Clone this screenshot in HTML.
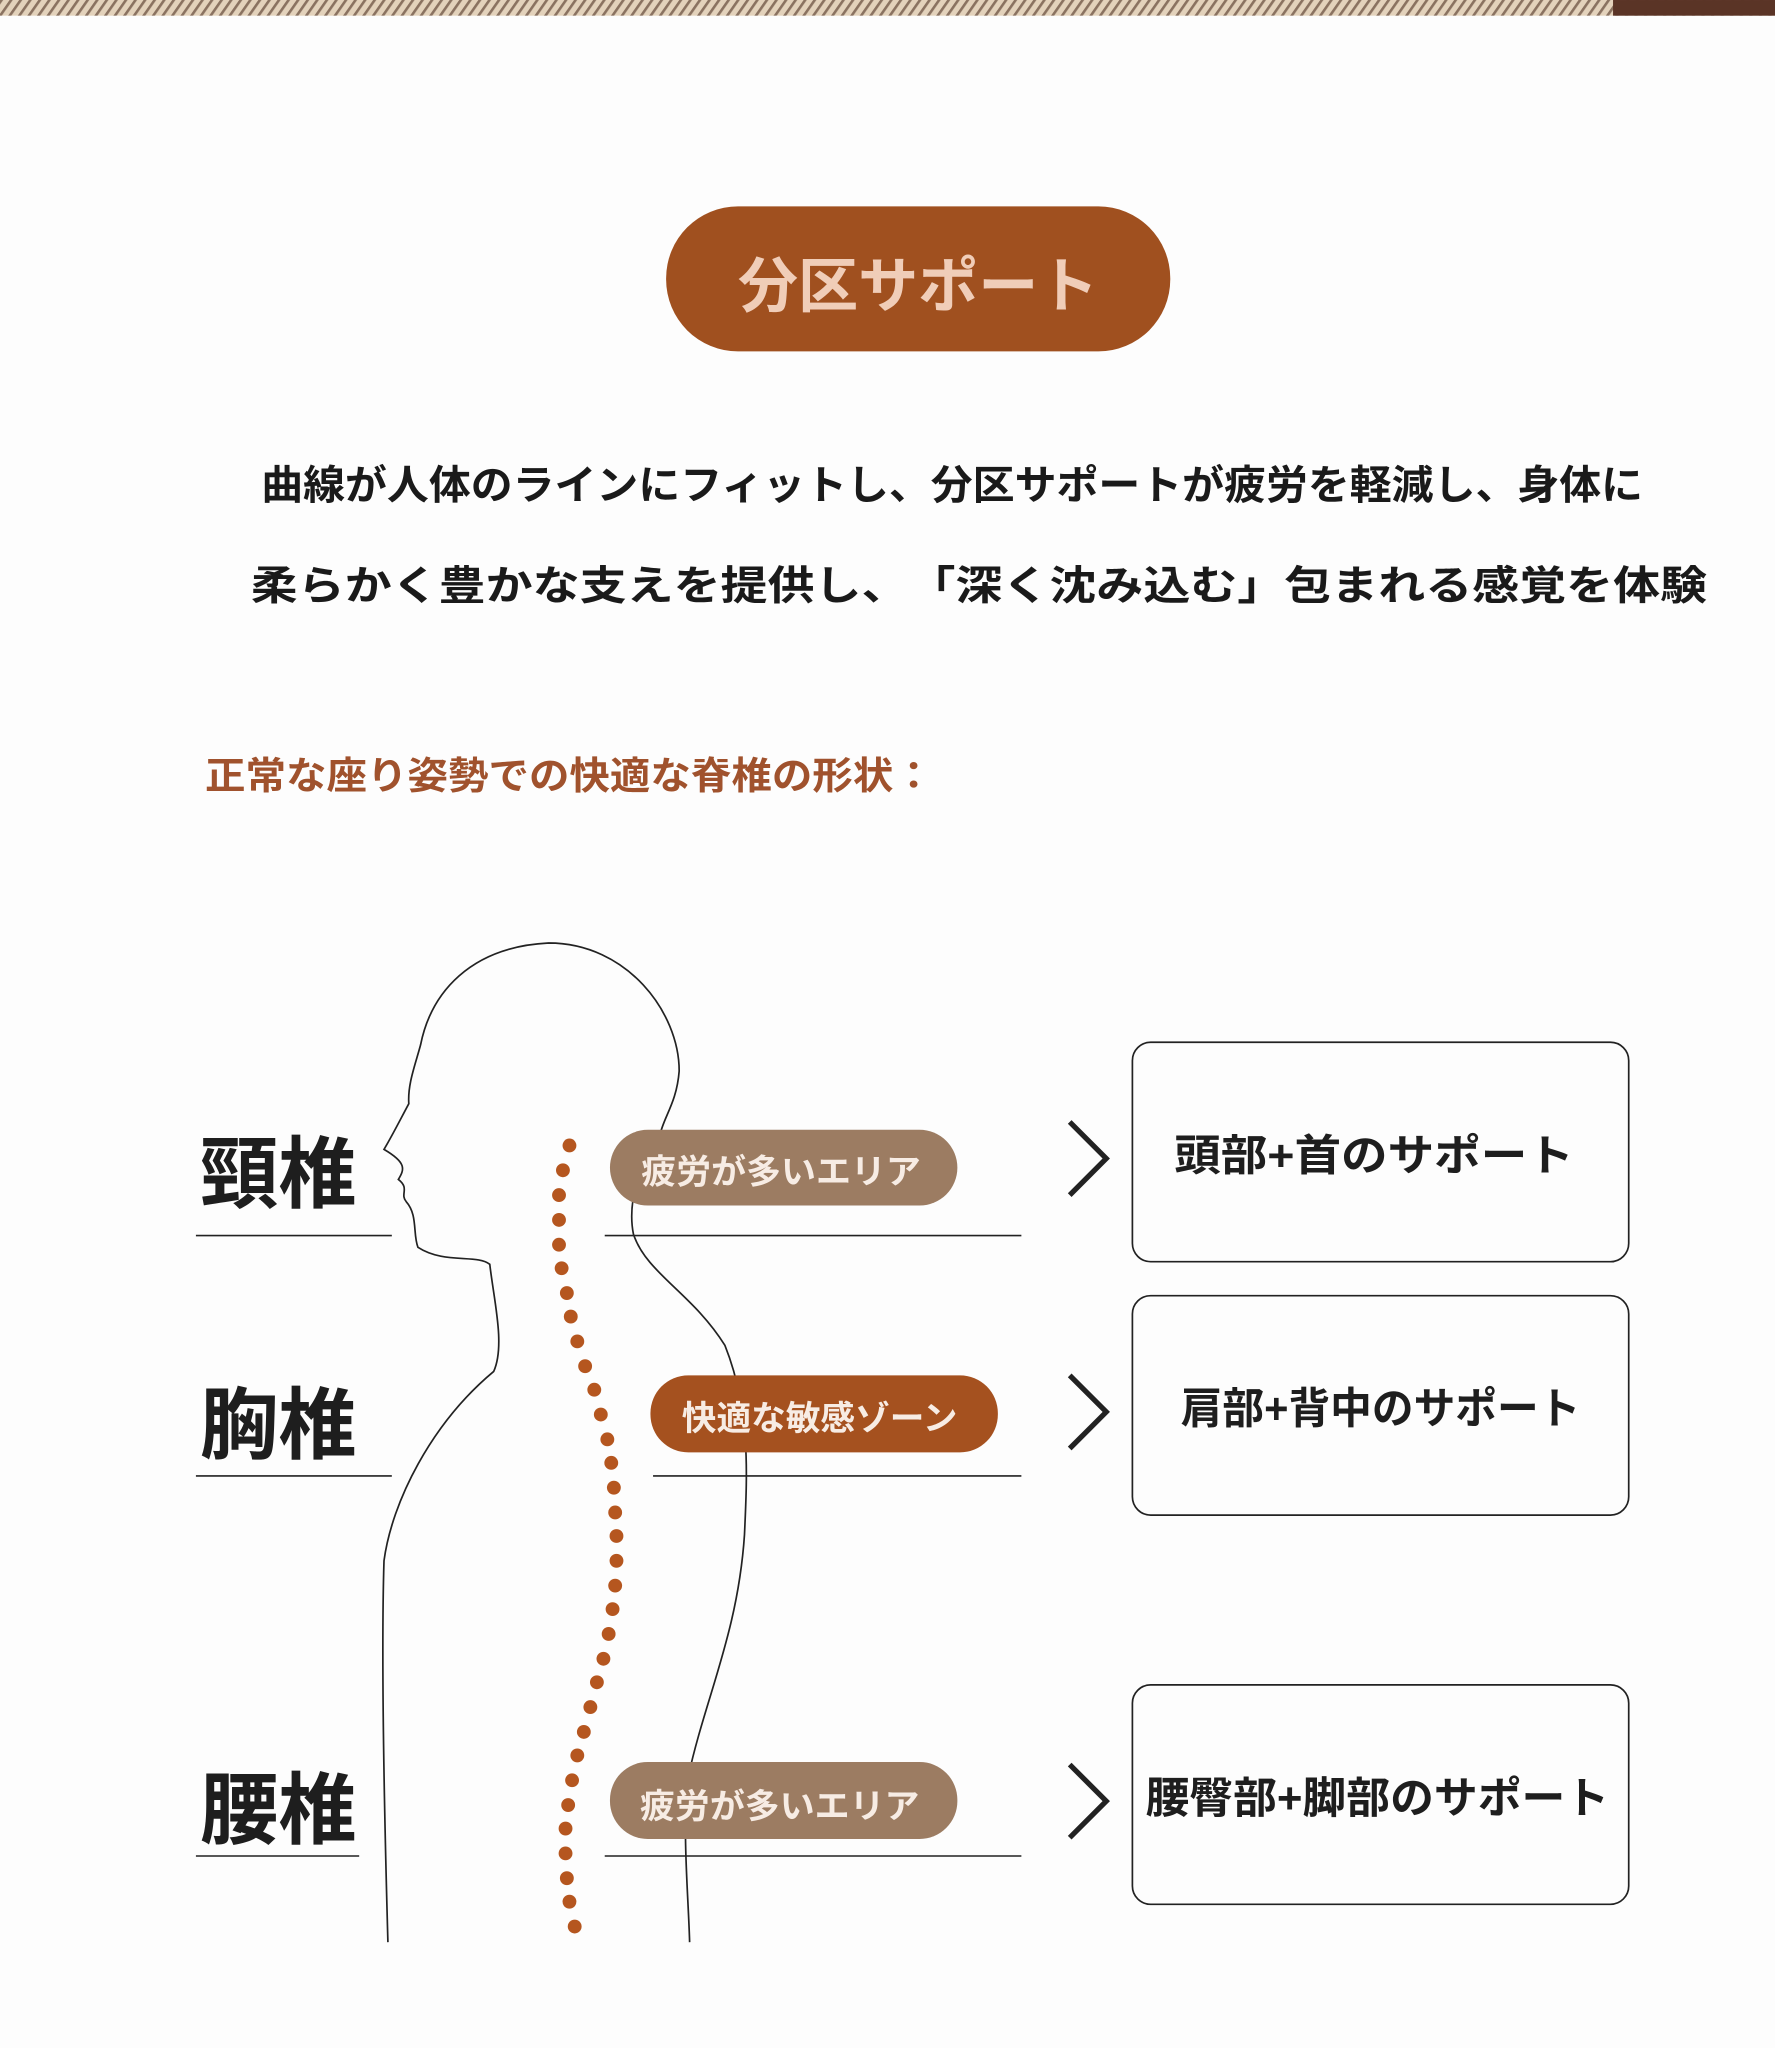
<!DOCTYPE html>
<html><head><meta charset="utf-8"><style>
html,body{margin:0;padding:0;background:#fdfdfd;}
svg{display:block;}
text{font-family:"Liberation Sans","Noto Sans CJK JP",sans-serif;font-weight:700;}
</style></head><body>
<svg width="1775" height="2048" viewBox="0 0 1359 1568" xmlns="http://www.w3.org/2000/svg">
<defs>
<pattern id="wood" width="6" height="6" patternUnits="userSpaceOnUse" patternTransform="rotate(35)">
<rect width="6" height="6" fill="#e3d2bb"/><rect width="2" height="6" fill="#8a7260"/>
</pattern>
</defs>
<rect width="1359" height="1568" fill="#fdfdfd"/>
<rect x="0" y="0" width="1359" height="12" fill="url(#wood)"/>
<rect x="1235" y="0" width="124" height="12" fill="#5a3426"/>
<rect x="510" y="158" width="386" height="111" rx="55" fill="#a0501f"/>
<text x="703" y="235" text-anchor="middle" font-size="46" fill="#f0cdb8">分区サポート</text>
<text x="200" y="382" font-size="31" fill="#1a1a1a" textLength="1058" lengthAdjust="spacingAndGlyphs">曲線が人体のラインにフィットし、分区サポートが疲労を軽減し、身体に</text>
<text x="192" y="459" font-size="31" fill="#1a1a1a" textLength="1115" lengthAdjust="spacingAndGlyphs">柔らかく豊かな支えを提供し、　「深く沈み込む」包まれる感覚を体験</text>
<text x="157" y="604" font-size="29" fill="#a0522d" textLength="558" lengthAdjust="spacingAndGlyphs">正常な座り姿勢での快適な脊椎の形状：</text>
<path d="M297,1487 C294,1380 292,1260 294,1195 C300,1150 330,1090 378,1050 C387,1030 378,995 375,968 C365,960 340,968 320,955 C316,945 320,930 311,920 C306,914 314,910 305,903 C310,895 311,890 294,880 C300,870 305,860 313,845 C312,830 318,815 322,800 C330,760 360,725 420,722 C480,722 520,775 520,820 C518,845 508,855 505,870 C490,890 480,920 485,945 C495,975 530,990 555,1030 C575,1080 572,1130 570,1175 C565,1250 540,1300 527,1360 C522,1400 527,1450 528,1487" fill="none" stroke="#222" stroke-width="1.3"/>
<g fill="#b5561f">
<circle cx="436" cy="877" r="5.3"/><circle cx="431" cy="896" r="5.3"/><circle cx="428" cy="915" r="5.3"/><circle cx="428" cy="934" r="5.3"/><circle cx="428" cy="953" r="5.3"/><circle cx="430" cy="971" r="5.3"/><circle cx="434" cy="990" r="5.3"/><circle cx="437" cy="1008" r="5.3"/><circle cx="442" cy="1027" r="5.3"/><circle cx="448" cy="1046" r="5.3"/><circle cx="455" cy="1064" r="5.3"/><circle cx="460" cy="1083" r="5.3"/><circle cx="465" cy="1102" r="5.3"/><circle cx="468" cy="1120" r="5.3"/><circle cx="470" cy="1139" r="5.3"/><circle cx="471" cy="1158" r="5.3"/><circle cx="472" cy="1176" r="5.3"/><circle cx="472" cy="1195" r="5.3"/><circle cx="471" cy="1214" r="5.3"/><circle cx="469" cy="1232" r="5.3"/><circle cx="466" cy="1251" r="5.3"/><circle cx="462" cy="1270" r="5.3"/><circle cx="457" cy="1288" r="5.3"/><circle cx="452" cy="1307" r="5.3"/><circle cx="447" cy="1326" r="5.3"/><circle cx="442" cy="1344" r="5.3"/><circle cx="438" cy="1363" r="5.3"/><circle cx="435" cy="1382" r="5.3"/><circle cx="433" cy="1400" r="5.3"/><circle cx="433" cy="1419" r="5.3"/><circle cx="434" cy="1438" r="5.3"/><circle cx="436" cy="1456" r="5.3"/><circle cx="440" cy="1475" r="5.3"/>
</g>
<g fill="#1e1e1e" font-size="60">
<text x="153" y="920">頸椎</text>
<text x="153" y="1112">胸椎</text>
<text x="153" y="1407">腰椎</text>
</g>
<g stroke="#222" stroke-width="1.2">
<line x1="150" y1="946" x2="300" y2="946"/><line x1="150" y1="1130" x2="300" y2="1130"/><line x1="150" y1="1421" x2="275" y2="1421"/>
<line x1="463" y1="946" x2="782" y2="946"/><line x1="500" y1="1130" x2="782" y2="1130"/><line x1="463" y1="1421" x2="782" y2="1421"/>
</g>
<rect x="467" y="865" width="266" height="58" rx="29" fill="#9c7c62"/>
<text x="491" y="906" font-size="26" fill="#f7ece4" textLength="214" lengthAdjust="spacingAndGlyphs">疲労が多いエリア</text>
<rect x="498" y="1053" width="266" height="59" rx="29" fill="#a5511f"/>
<text x="522" y="1095" font-size="26" fill="#f7ece4" textLength="211" lengthAdjust="spacingAndGlyphs">快適な敏感ゾーン</text>
<rect x="467" y="1349" width="266" height="59" rx="29" fill="#9c7c62"/>
<text x="490" y="1392" font-size="26" fill="#f7ece4" textLength="214" lengthAdjust="spacingAndGlyphs">疲労が多いエリア</text>
<g fill="none" stroke="#222" stroke-width="4">
<polyline points="819,859 847,887 819,915"/><polyline points="819,1053 847,1081 819,1109"/><polyline points="819,1351 847,1379 819,1407"/>
</g>
<g fill="#fdfdfd" stroke="#222" stroke-width="1.3">
<rect x="867" y="798" width="380" height="168" rx="14"/>
<rect x="867" y="992" width="380" height="168" rx="14"/>
<rect x="867" y="1290" width="380" height="168" rx="14"/>
</g>
<g fill="#1e1e1e" font-size="33">
<text x="899" y="896" textLength="306" lengthAdjust="spacingAndGlyphs">頭部+首のサポート</text>
<text x="904" y="1090" textLength="306" lengthAdjust="spacingAndGlyphs">肩部+背中のサポート</text>
<text x="877" y="1388" textLength="355" lengthAdjust="spacingAndGlyphs">腰臀部+脚部のサポート</text>
</g>
</svg>
</body></html>
